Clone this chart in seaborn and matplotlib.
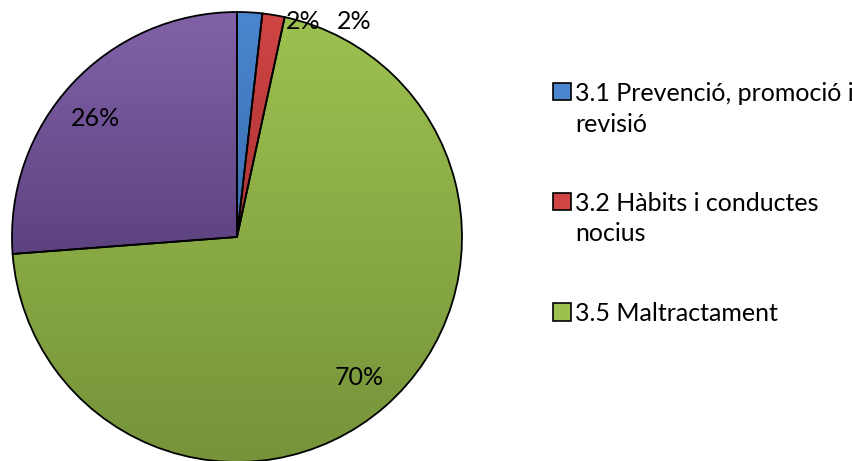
import numpy as np
import matplotlib
matplotlib.use('Agg')
import matplotlib.pyplot as plt
import seaborn as sns
from matplotlib.colors import LinearSegmentedColormap
from matplotlib.legend_handler import HandlerPatch
from matplotlib.patches import Rectangle

# data
categories = ['3.1 Prevenció, promoció i\nrevisió', '3.2 Hàbits i conductes\nnocius',
              '3.5 Maltractament', '']
values = [1.8, 1.6, 70.4, 26.2]
pct_labels = ['2%', '2%', '70%', '26%']
top_colors = ['#4a86cf', '#cf4544', '#9dc14f', '#8162a9']
bottom_colors = ['#3a6eb0', '#ae3433', '#76933a', '#5d4280']

sns.set_theme(style='white')
plt.rcParams['font.family'] = ['Lato', 'DejaVu Sans']
plt.rcParams['text.color'] = 'black'
FS = 18
LINESP = 1.4

fig = plt.figure(figsize=(8.53, 4.61), dpi=100)
ax = fig.add_axes([12 / 853, -1 / 461, 450 / 853, 450 / 461])

wedges, texts, autotexts = ax.pie(
    values, startangle=90, counterclock=False, radius=1,
    colors=top_colors, autopct=lambda p: '', pctdistance=0.83,
    wedgeprops=dict(edgecolor='black', linewidth=1.3))

# vertical gradient fill inside each wedge (Excel style)
for w, c_top, c_bot in zip(wedges, top_colors, bottom_colors):
    ext = w.get_path().get_extents()
    cmap = LinearSegmentedColormap.from_list('g', [c_bot, c_top])
    grad = np.linspace(0, 1, 256).reshape(-1, 1)
    im = ax.imshow(grad, cmap=cmap, origin='lower', aspect='auto',
                   extent=(ext.x0, ext.x1, ext.y0, ext.y1), zorder=0.5)
    im.set_clip_path(w)
    w.set_facecolor('none')
    w.set_zorder(2)

# percent labels: big slices inside, small slices above the pie
for t, lab in zip(autotexts, pct_labels):
    t.set_text(lab)
    t.set_fontsize(FS)
    t.set_color('black')
autotexts[0].set_position((0.293, 0.956))
autotexts[1].set_position((0.52, 0.956))
autotexts[3].set_position((-0.631, 0.525))

ax.set_xlim(-1, 1)
ax.set_ylim(-1, 1)
ax.set_aspect('equal')
ax.axis('off')


def square_handler(n_lines):
    # legend centres the handle on a multi-line label; move it up to the first line
    def make(legend, orig_handle, xdescent, ydescent, width, height, fontsize):
        shift = (n_lines - 1) * fontsize * 0.72
        return Rectangle((-xdescent, -ydescent + shift), width, height)
    return HandlerPatch(patch_func=make)


proxies = []
hmap = {}
for lab, c_top, c_bot in zip(categories[:3], top_colors, bottom_colors):
    p = Rectangle((0, 0), 1, 1, facecolor=c_top, edgecolor='black', linewidth=1.2)
    proxies.append(p)
    hmap[p] = square_handler(lab.count('\n') + 1)

leg = fig.legend(proxies, categories[:3], handler_map=hmap, loc='upper left',
                 bbox_to_anchor=(553 / 853, 1 - 82 / 461), frameon=False,
                 fontsize=FS, handlelength=0.7, handleheight=0.7,
                 handletextpad=0.18, labelspacing=2.25, borderpad=0, borderaxespad=0)
for t in leg.get_texts():
    t.set_linespacing(LINESP)
    t.set_color('black')

fig.savefig('out.png', dpi=100, facecolor='white')
